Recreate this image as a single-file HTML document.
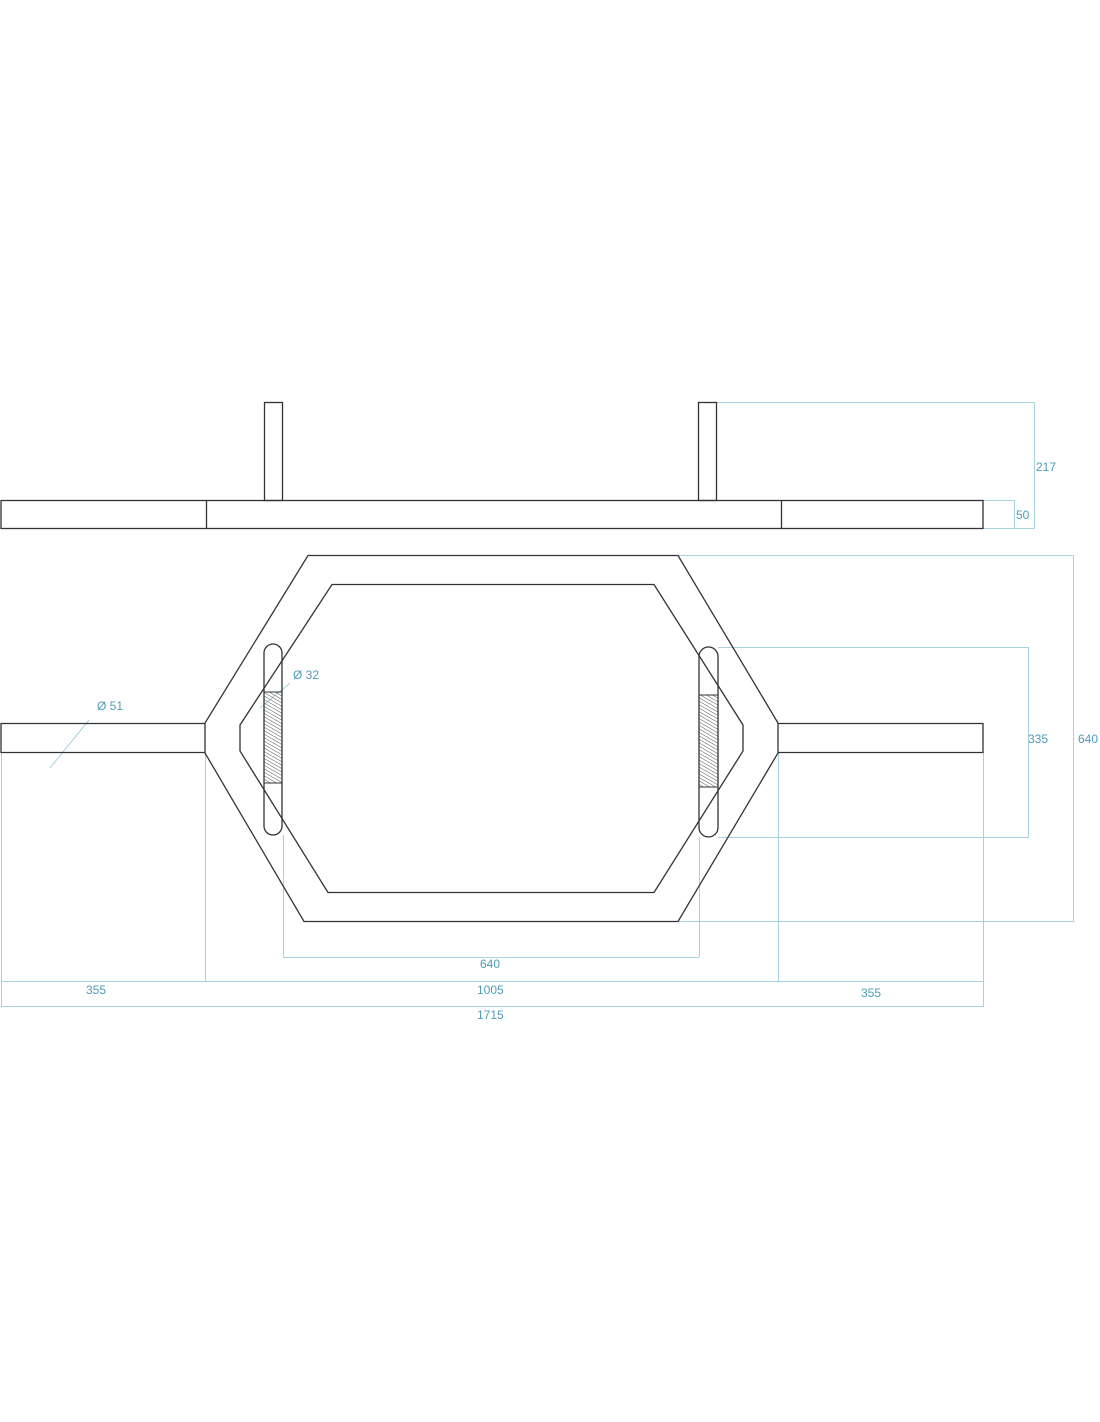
<!DOCTYPE html>
<html><head><meta charset="utf-8"><style>
html,body{margin:0;padding:0;background:#fff;width:1100px;height:1422px;overflow:hidden}
</style></head><body>
<svg width="1100" height="1422" viewBox="0 0 1100 1422" xmlns="http://www.w3.org/2000/svg">
<defs>
<pattern id="h" width="3" height="3" patternUnits="userSpaceOnUse" patternTransform="rotate(-60)">
<line x1="0" y1="0" x2="0" y2="3" stroke="#555" stroke-width="1"/>
</pattern>
</defs>
<g fill="none" stroke="#a8d0de" stroke-width="1">
<!-- top dims -->
<polyline points="716,402.5 1034.5,402.5 1034.5,528.5 983,528.5"/>
<polyline points="983,500.5 1014.5,500.5 1014.5,528.5"/>
<!-- 640 right -->
<polyline points="678,555.5 1073.5,555.5 1073.5,921.5 983,921.5"/>
<line x1="983" y1="921.5" x2="678" y2="921.5"/>
<!-- 335 -->
<polyline points="718,647.5 1028.5,647.5 1028.5,837.5 718,837.5"/>
<!-- bottom verticals -->
<line x1="1.5" y1="753" x2="1.5" y2="1007"/>
<line x1="983.5" y1="753" x2="983.5" y2="1007"/>
<line x1="205.5" y1="753" x2="205.5" y2="981"/>
<line x1="778.5" y1="753" x2="778.5" y2="981"/>
<line x1="283.5" y1="835" x2="283.5" y2="957"/>
<line x1="699.5" y1="837" x2="699.5" y2="957"/>
<line x1="283" y1="957.5" x2="699" y2="957.5"/>
<line x1="1" y1="981.5" x2="983" y2="981.5"/>
<line x1="1" y1="1006.5" x2="983" y2="1006.5"/>
<!-- leaders -->
<line x1="50" y1="768" x2="89" y2="720"/>
<line x1="260" y1="708" x2="290" y2="683"/>
</g>
<g fill="none" stroke="#333" stroke-width="1.3">
<!-- top view -->
<rect x="1" y="500.5" width="982" height="28"/>
<line x1="206.5" y1="500" x2="206.5" y2="528"/>
<line x1="781.5" y1="500" x2="781.5" y2="528"/>
<rect x="264.5" y="402.5" width="18" height="98"/>
<rect x="698.5" y="402.5" width="18" height="98"/>
<!-- sleeves -->
<polyline points="205,723.5 1,723.5 1,752.5 205,752.5"/>
<polyline points="778,723.5 983,723.5 983,752.5 778,752.5"/>
<!-- outer hex -->
<polygon points="308,555.5 678,555.5 778,723 778,753 678,921.5 304,921.5 205,753 205,723"/>
<!-- inner hex -->
<polygon points="332,584.5 654,584.5 743,725 743,751 654,892.5 328,892.5 240,751 240,725"/>
</g>
<!-- grips -->
<rect x="264" y="692" width="18" height="91" fill="url(#h)" stroke="#333" stroke-width="1"/>
<rect x="699" y="695" width="19" height="92" fill="url(#h)" stroke="#333" stroke-width="1"/>
<rect x="264" y="644" width="18" height="191" rx="9" fill="none" stroke="#333" stroke-width="1.3"/>
<rect x="699" y="647" width="19" height="190" rx="9.5" fill="none" stroke="#333" stroke-width="1.3"/>
<g font-family="Liberation Sans, sans-serif" font-size="12" fill="#4f9cb8">
<text x="1036" y="471">217</text>
<text x="1016" y="519">50</text>
<text x="1078" y="743">640</text>
<text x="1028" y="743">335</text>
<text x="97" y="710">Ø 51</text>
<text x="293" y="679">Ø 32</text>
<text x="480" y="968">640</text>
<text x="86" y="994">355</text>
<text x="477" y="994">1005</text>
<text x="861" y="997">355</text>
<text x="477" y="1019">1715</text>
</g>
</svg>
</body></html>
